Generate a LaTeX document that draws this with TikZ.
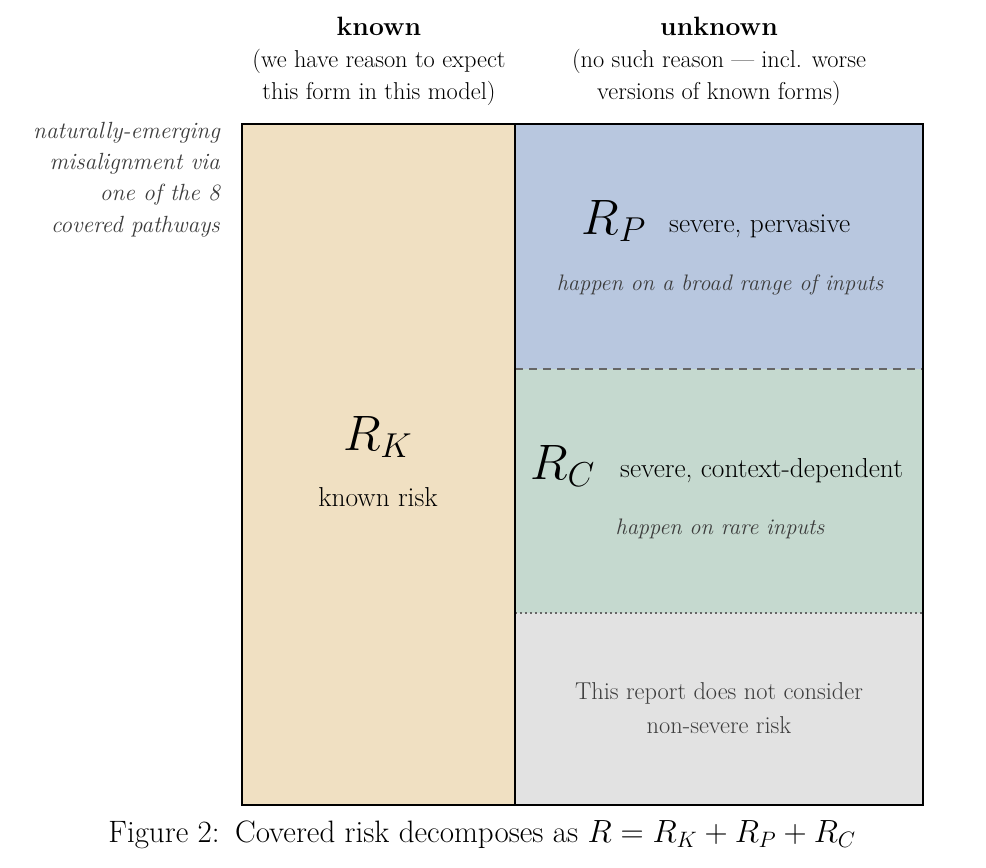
\documentclass[tikz,border=0pt]{standalone}
\usepackage{fontspec}
\usepackage{amsmath}
\definecolor{knownfill}{HTML}{F0E0C2}
\definecolor{pfill}{HTML}{B8C7DF}
\definecolor{cfill}{HTML}{C5D9CF}
\definecolor{gfill}{HTML}{E2E2E2}
\definecolor{txtgrey}{HTML}{3C3C3C}
\definecolor{linegrey}{HTML}{666666}
\begin{document}
\begin{tikzpicture}[x=1pt,y=-1pt,
  head/.style={font=\fontsize{26.5}{32}\selectfont\bfseries, inner sep=0pt},
  sub/.style={font=\fontsize{24.4}{32}\selectfont, inner sep=0pt},
  boxtxt/.style={font=\fontsize{27.4}{32}\selectfont, inner sep=0pt},
  greytxt/.style={font=\fontsize{24.4}{32}\selectfont, text=txtgrey, inner sep=0pt},
  note/.style={font=\fontsize{23.4}{32}\selectfont\itshape, text=txtgrey, inner sep=0pt},
  innote/.style={font=\fontsize{22.4}{32}\selectfont\itshape, text=txtgrey, inner sep=0pt},
  bigmath/.style={font=\fontsize{23}{28}\selectfont, inner sep=0pt, scale=2, transform shape},
  captxt/.style={font=\fontsize{24}{28}\selectfont, inner sep=0pt, scale=1.29, transform shape}
]
\useasboundingbox (0,0) rectangle (986,868);
% regions
\fill[knownfill] (242,124) rectangle (515,805);
\fill[pfill] (515,124) rectangle (923,369);
\fill[cfill] (515,369) rectangle (923,613);
\fill[gfill] (515,613) rectangle (923,805);
\draw[linegrey, line width=1.2pt, dash pattern=on 8pt off 6pt] (515,369) -- (923,369);
\draw[linegrey, line width=1.6pt, dash pattern=on 1.6pt off 3.4pt] (515,613) -- (923,613);
\draw[black, line width=1.6pt] (242,124) rectangle (923,805);
\draw[black, line width=1.6pt] (515,124) -- (515,805);
% headers
\node[head] (kh) at (379,26) {known};
\node[sub] (kd1) at (379,61) {(we have reason to expect};
\node[sub] (kd2) at (379,93) {this form in this model)};
\node[head] (uh) at (719,26) {unknown};
\node[sub] (ud1) at (719,61) {(no such reason --- incl. worse};
\node[sub] (ud2) at (719,93) {versions of known forms)};
% left label
\node[note, anchor=east] (l1) at (220,133) {naturally-emerging};
\node[note, anchor=east] (l2) at (220,164) {misalignment via};
\node[note, anchor=east] (l3) at (220,195) {one of the 8};
\node[note, anchor=east] (l4) at (220,227) {covered pathways};
% known
\node[bigmath] (rk) at (378,437) {$R_K$};
\node[boxtxt] (rkt) at (378,497) {known risk};
% P
\node[bigmath] (rp) at (614,221) {$R_P$};
\node[boxtxt, anchor=west] (rpt) at (669,226) {severe, pervasive};
\node[innote] (rpn) at (720,285) {happen on a broad range of inputs};
% C
\node[bigmath] (rc) at (563,466) {$R_C$};
\node[boxtxt, anchor=west] (rct) at (620,471) {severe, context-dependent};
\node[innote] (rcn) at (720,529) {happen on rare inputs};
% non-severe
\node[greytxt] (ns1) at (719,693) {This report does not consider};
\node[greytxt] (ns2) at (719,725) {non-severe risk};
% caption
\node[captxt] (cap) at (482,835) {Figure 2:\enspace Covered risk decomposes as $R = R_K + R_P + R_C$};
\end{tikzpicture}
\end{document}
